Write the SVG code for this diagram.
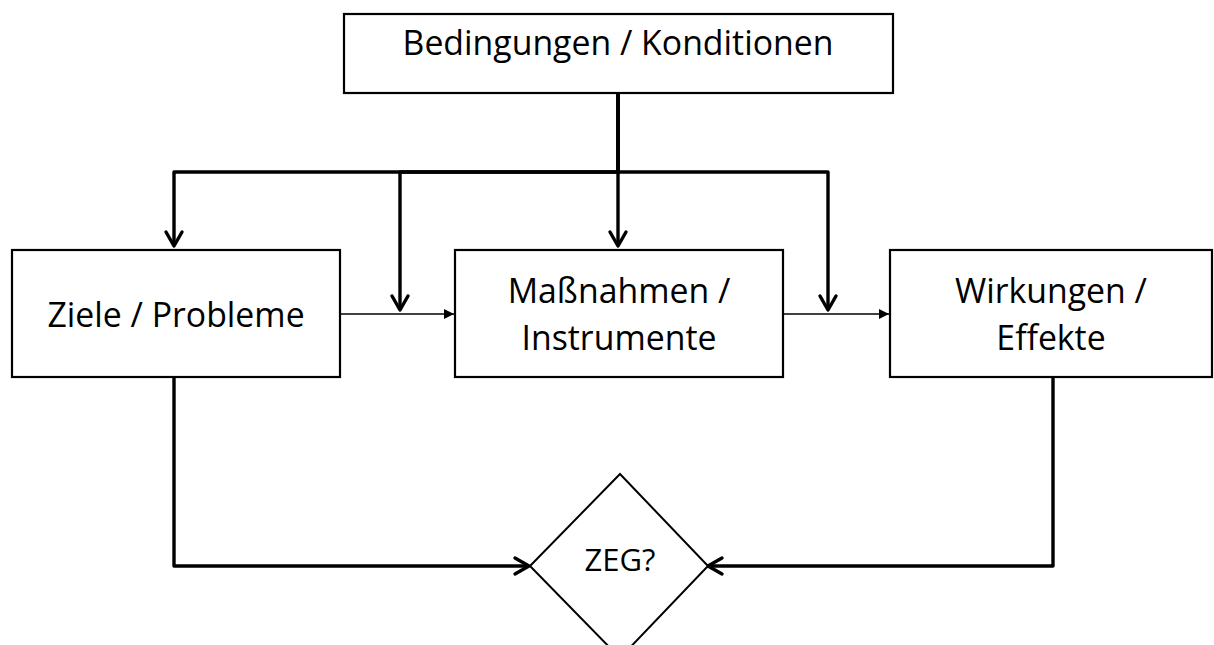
<svg xmlns="http://www.w3.org/2000/svg" width="1214" height="645" viewBox="0 0 1214 645">
<style>
.box{fill:#fff;stroke:#000;stroke-width:2.2}
.dia{fill:#fff;stroke:#000;stroke-width:2}
.t{font-family:"Open Sans","Liberation Sans",sans-serif;font-size:33.8px;fill:#000;text-anchor:middle}
.thick{fill:none;stroke:#000;stroke-width:3.4;stroke-linejoin:round}
.thin{fill:none;stroke:#000;stroke-width:1.6}
</style>
<defs>
<marker id="open" markerUnits="userSpaceOnUse" markerWidth="24" markerHeight="24" viewBox="-16 -12 20 24" refX="0" refY="0" orient="auto">
<path d="M-14,-8 L0,0 L-14,8" fill="none" stroke="#000" stroke-width="3.4" stroke-linecap="round" stroke-linejoin="round"/>
</marker>
<marker id="tri" markerUnits="userSpaceOnUse" markerWidth="14" markerHeight="12" viewBox="-11 -6 12 12" refX="0" refY="0" orient="auto">
<path d="M-10,-5 L0,0 L-10,5 Z" fill="#000"/>
</marker>
</defs>
<g id="connectors">
<path class="thick" d="M618,93 V172 H174 V246" marker-end="url(#open)"/>
<path class="thick" d="M618,93 V172 H400 V310" marker-end="url(#open)"/>
<path class="thick" d="M618,93 V246" marker-end="url(#open)"/>
<path class="thick" d="M618,93 V172 H828 V310" marker-end="url(#open)"/>
<path class="thin" d="M340,314 H454" marker-end="url(#tri)"/>
<path class="thin" d="M783,314 H889" marker-end="url(#tri)"/>
<path class="thick" d="M174,377 V566 H529" marker-end="url(#open)"/>
<path class="thick" d="M1053,377 V566 H708" marker-end="url(#open)"/>
</g>
<g id="node-bedingungen">
<rect class="box" x="344" y="14" width="549" height="79"/>
<text class="t" x="618" y="55">Bedingungen / Konditionen</text>
</g>
<g id="node-ziele">
<rect class="box" x="12" y="250" width="328" height="127"/>
<text class="t" x="176" y="327">Ziele / Probleme</text>
</g>
<g id="node-massnahmen">
<rect class="box" x="455" y="250" width="328" height="127"/>
<text class="t" x="619" y="303">Maßnahmen /</text>
<text class="t" x="619" y="350">Instrumente</text>
</g>
<g id="node-wirkungen">
<rect class="box" x="890" y="250" width="322" height="127"/>
<text class="t" x="1051" y="303">Wirkungen /</text>
<text class="t" x="1051" y="350">Effekte</text>
</g>
<g id="node-zeg">
<polygon class="dia" points="620,474 708,566 620,658 530,566"/>
<text class="t" x="620" y="571" style="font-size:31px">ZEG?</text>
</g>
</svg>
